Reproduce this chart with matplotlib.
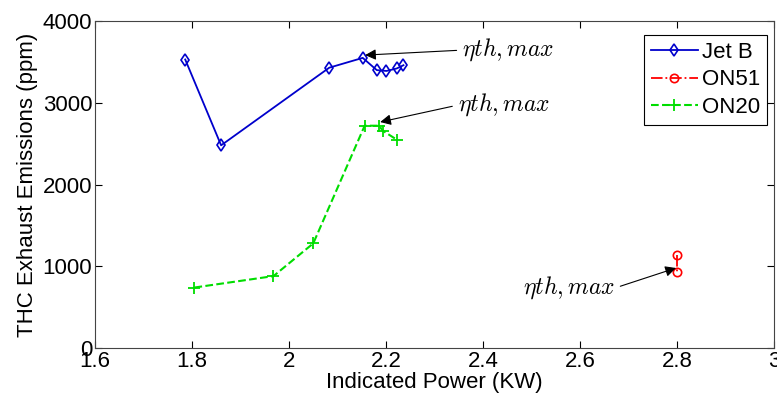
import matplotlib
matplotlib.use("Agg")
import matplotlib.pyplot as plt

plt.rcParams["font.family"] = ["Liberation Sans", "DejaVu Sans"]
plt.rcParams["mathtext.fontset"] = "cm"

# Jet B
jetb_power = [1.786, 1.860, 2.083, 2.152, 2.181, 2.201, 2.222, 2.236]
jetb_thc = [3530, 2480, 3430, 3550, 3400, 3390, 3420, 3460]

# ON51
on51_power = [2.800, 2.800]
on51_thc = [1140, 930]

# ON20
on20_power = [1.805, 1.968, 2.050, 2.156, 2.186, 2.193, 2.222]
on20_thc = [740, 880, 1280, 2720, 2720, 2660, 2550]

label_text = r"$\eta th,max$"

fig = plt.figure(figsize=(7.77, 3.98), dpi=100)
ax = fig.add_axes([0.1223, 0.1256, 0.8738, 0.8214])

ax.plot(jetb_power, jetb_thc, "-", color="#0000cc", lw=1.3, marker="d",
        mfc="none", mec="#0000cc", ms=6, mew=1.2, label="Jet B")
ax.plot(on51_power, on51_thc, "-.", color="red", lw=1.3, marker="o",
        mfc="none", mec="red", ms=6, mew=1.2, label="ON51")
ax.plot(on20_power, on20_thc, "--", color="#00dd00", lw=1.5, marker="+",
        ms=8, mew=1.3, label="ON20")

arrow = dict(arrowstyle="-|>", color="black", lw=0.8, mutation_scale=16,
             shrinkA=2, shrinkB=0)
ax.annotate(label_text, xy=(2.157, 3584), xytext=(2.357, 3645),
            fontsize=17, va="center", ha="left",
            arrowprops=dict(arrow, relpos=(0, 0.5)))
ax.annotate(label_text, xy=(2.188, 2765), xytext=(2.348, 2972),
            fontsize=17, va="center", ha="left",
            arrowprops=dict(arrow, relpos=(0, 0.5)))
ax.annotate(label_text, xy=(2.798, 979), xytext=(2.672, 734),
            fontsize=17, va="center", ha="right",
            arrowprops=dict(arrow, relpos=(1, 0.5)))

ax.set_xlim(1.6, 3)
ax.set_ylim(0, 4000)
ax.set_xticks([1.6, 1.8, 2, 2.2, 2.4, 2.6, 2.8, 3])
ax.set_xticklabels(["1.6", "1.8", "2", "2.2", "2.4", "2.6", "2.8", "3"])
ax.set_yticks([0, 1000, 2000, 3000, 4000])
ax.tick_params(direction="in", top=True, right=True, length=5,
               labelsize=16, width=0.8, pad=2)
for s in ax.spines.values():
    s.set_color("#444444")
    s.set_linewidth(0.8)

ax.set_xlabel("Indicated Power (KW)", fontsize=16, labelpad=0)
ax.set_ylabel("THC Exhaust Emissions (ppm)", fontsize=16, labelpad=3)

leg = ax.legend(loc="upper right", bbox_to_anchor=(0.990, 0.957),
                fontsize=16, fancybox=False, edgecolor="black",
                framealpha=1, handlelength=2.1, handletextpad=0.2,
                borderpad=0.3, labelspacing=0.3, borderaxespad=0)
leg.get_frame().set_linewidth(0.8)

fig.savefig("out.png", dpi=100)
